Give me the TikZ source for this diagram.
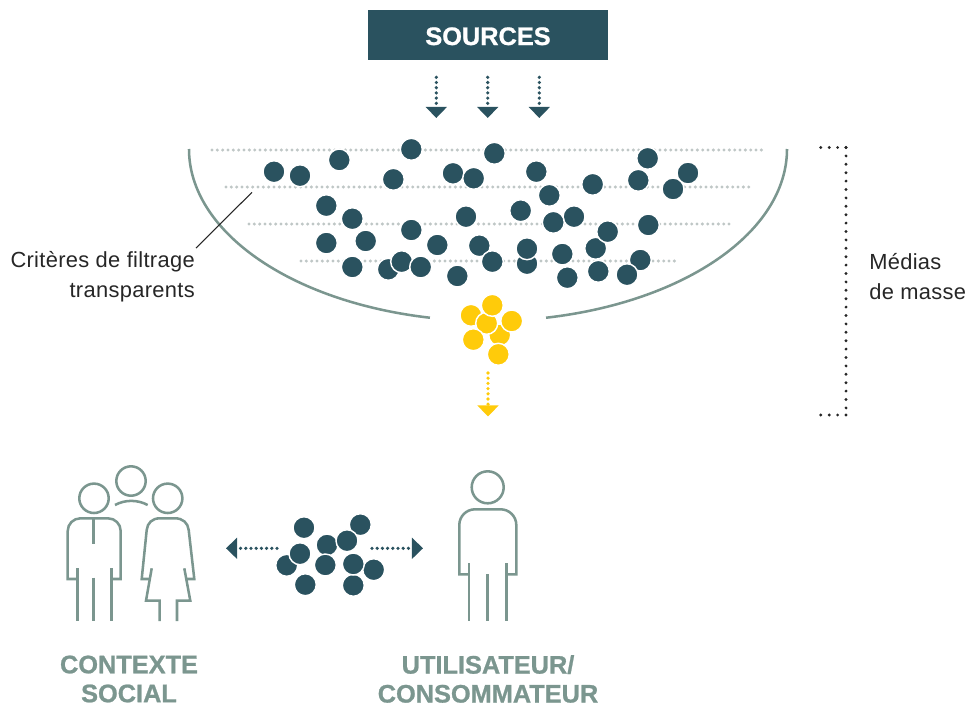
\documentclass[tikz,border=0pt]{standalone}
\usepackage{fontspec}
\setmainfont{Liberation Sans}[BoldFeatures={FakeBold=0.9}]
\usetikzlibrary{arrows.meta}
\definecolor{petrol}{HTML}{2A525F}
\definecolor{sage}{HTML}{7B968F}
\definecolor{amber}{HTML}{FFCB0A}
\definecolor{rowgrey}{HTML}{BFC7C6}
\tikzset{
  dotnode/.style={circle,draw=white,line width=1.1pt,minimum size=16.5pt,inner sep=0pt,fill=#1},
  rowline/.style={rowgrey,line width=2.5pt,line cap=round,dash pattern=on 0pt off 4pt},
  dotarrow/.style={#1,line width=2.7pt,line cap=round,dash pattern=on 0pt off 3.9pt,-{Triangle[length=8.3pt,width=15.5pt]}},
  bracket/.style={black!85,line width=2.4pt,line cap=round,dash pattern=on 0pt off 6.3pt},
  figure/.style={sage,line width=1.9pt,line join=miter},
  heading/.style={font=\fontsize{19}{21.7}\selectfont\bfseries,align=center,inner sep=0pt},
  caption/.style={font=\fontsize{16.4}{22.3}\selectfont\addfontfeatures{LetterSpace=1.5},inner sep=0pt,text=black!85}
}
\begin{document}
\begin{tikzpicture}[x=0.75pt,y=0.75pt,yscale=-1,xscale=1]
\useasboundingbox (0,0) rectangle (970,707);

% Sources
\node [fill=petrol,text=white,heading,text height=15pt,text depth=0pt,minimum width=180pt,minimum height=37.5pt] (sources) at (488,35) {SOURCES};
\foreach \px [count=\i] in {436.3,487.7,539.3} {
  \coordinate (in\i) at (\px,77.3);
  \coordinate (out\i) at (\px,118);
  \draw [dotarrow=petrol] (in\i) -- (out\i);
}

% Filter rows
\foreach \xa/\xb/\py [count=\i] in {212/765/150,226/752/187,249/729/224,301/676/261} {
  \coordinate (rowa\i) at (\xa,\py);
  \coordinate (rowb\i) at (\xb,\py);
  \draw [rowline] (rowa\i) -- (rowb\i);
}

% Bowl
\draw [sage,line width=1.9pt] (189,149) arc [start angle=180,end angle=101.2,x radius=299,y radius=172];
\draw [sage,line width=1.9pt] (787,149) arc [start angle=0,end angle=78.8,x radius=299,y radius=172];

% Dots in the bowl
\foreach \px/\py [count=\i] in {
  274/171.7,300/175.7,339.3/160,411.3/149.3,393.3/179.3,453/173.3,473.7/178.3,494.3/153.3,
  326.3/205.7,352.3/218.7,466/216.7,411.3/230,326.3/243,365.7/241,437.3/245,479.3/245.7,
  352.3/267,388.3/269.3,401.7/261.7,420.7/267,457.3/276,492.3/261.7,
  536.3/171.7,549.3/195.3,592.7/184.3,647.7/158.3,638.3/180.3,673/189,688/173,
  520.7/210.7,574/216.7,553.3/222.3,648.3/225,595.7/248.3,607.7/231.7,
  527/263.7,527/248.7,562.3/254,640.3/260,567.3/277.7,598.3/271.3,627/274.7} {
  \node [dotnode=petrol] (bowl\i) at (\px,\py) {};
}

% Filtered dots
\foreach \px/\py [count=\i] in {
  471/315.3,499.7/335,486.7/323.3,492.3/305.3,511.7/321,473.3/339.7,498.3/354.3} {
  \node [dotnode=amber] (gold\i) at (\px,\py) {};
}
\coordinate (goldin) at (488,373);
\coordinate (goldout) at (488,416.5);
\draw [dotarrow=amber] (goldin) -- (goldout);

% Left label
\node [caption,align=right,anchor=north east] (criteria) at (195,251.5) {Critères de filtrage\\transparents};
\coordinate (leada) at (196,248);
\coordinate (leadb) at (252,192.3);
\draw [black!85,line width=0.8pt] (leada) -- (leadb);

% Bracket
\coordinate (brA) at (820,147.5);
\coordinate (brB) at (846,147.5);
\coordinate (brC) at (846,415);
\coordinate (brD) at (820,415);
\draw [bracket] (brB) -- (brA);
\draw [bracket] (brB) -- (brC);
\draw [bracket] (brC) -- (brD);
\node [caption,align=left,anchor=north west] (media) at (869,253.5) {Médias\\de masse};

% Group of three
\draw [figure] (94,498.3) circle [radius=14.7];
\draw [figure] (131,481) circle [radius=14.7];
\draw [figure] (167.7,498.3) circle [radius=14.7];
\draw [figure] (115,505) .. controls (125,499.5) and (137.5,499.5) .. (147.7,505);
\draw [figure] (77.3,579) -- (67.7,579) -- (67.7,531) arc [start angle=180,end angle=270,radius=12.7] -- (108,518.3) arc [start angle=270,end angle=360,radius=12.7] -- (120.7,579) -- (111.3,579);
\draw [figure] (77.3,568.3) -- (77.3,621);
\draw [figure] (111.3,568.3) -- (111.3,621);
\draw [figure] (93.7,577.7) -- (93.7,620.7);
\draw [figure] (93.7,518.3) -- (93.7,543.7);
\draw [figure] (150.7,579) -- (141.7,579) -- (146.7,530) .. controls (147.5,523) and (152,518.3) .. (160,518.3) -- (175,518.3) .. controls (183,518.3) and (187.9,523) .. (188.7,530) -- (194.3,579) -- (185.3,579);
\draw [figure] (151.7,568.3) -- (146,600.7) -- (159.7,600.7) -- (159.7,621);
\draw [figure] (184.3,568.3) -- (190.3,600.7) -- (177,600.7) -- (177,621);

% Shared dots
\foreach \px/\py [count=\i] in {
  304/527.7,360.3/524.7,327/545,347/540.7,286.7/565.3,300/553.7,325.3/565,
  373.7/569.7,305.3/584.7,353.3/585.3,353.3/564} {
  \node [dotnode=petrol] (shared\i) at (\px,\py) {};
}
\coordinate (lefta) at (277,548.3);
\coordinate (leftb) at (226,548.3);
\coordinate (righta) at (372,548.3);
\coordinate (rightb) at (423,548.3);
\draw [dotarrow=petrol] (lefta) -- (leftb);
\draw [dotarrow=petrol] (righta) -- (rightb);

% Single user
\draw [figure] (487.7,487.3) circle [radius=16];
\draw [figure] (469,574.3) -- (459.3,574.3) -- (459.3,525) arc [start angle=180,end angle=270,radius=15.7] -- (500.6,509.3) arc [start angle=270,end angle=360,radius=15.7] -- (516.3,574.3) -- (506.3,574.3);
\draw [figure] (469,563.3) -- (469,621);
\draw [figure] (506.3,563.3) -- (506.3,621);
\draw [figure] (487.7,574) -- (487.7,621);

% Captions
\node [heading,text=sage] (context) at (129,679) {CONTEXTE\\SOCIAL};
\node [heading,text=sage] (user) at (488,679) {UTILISATEUR/\\CONSOMMATEUR};

\end{tikzpicture}
\end{document}
